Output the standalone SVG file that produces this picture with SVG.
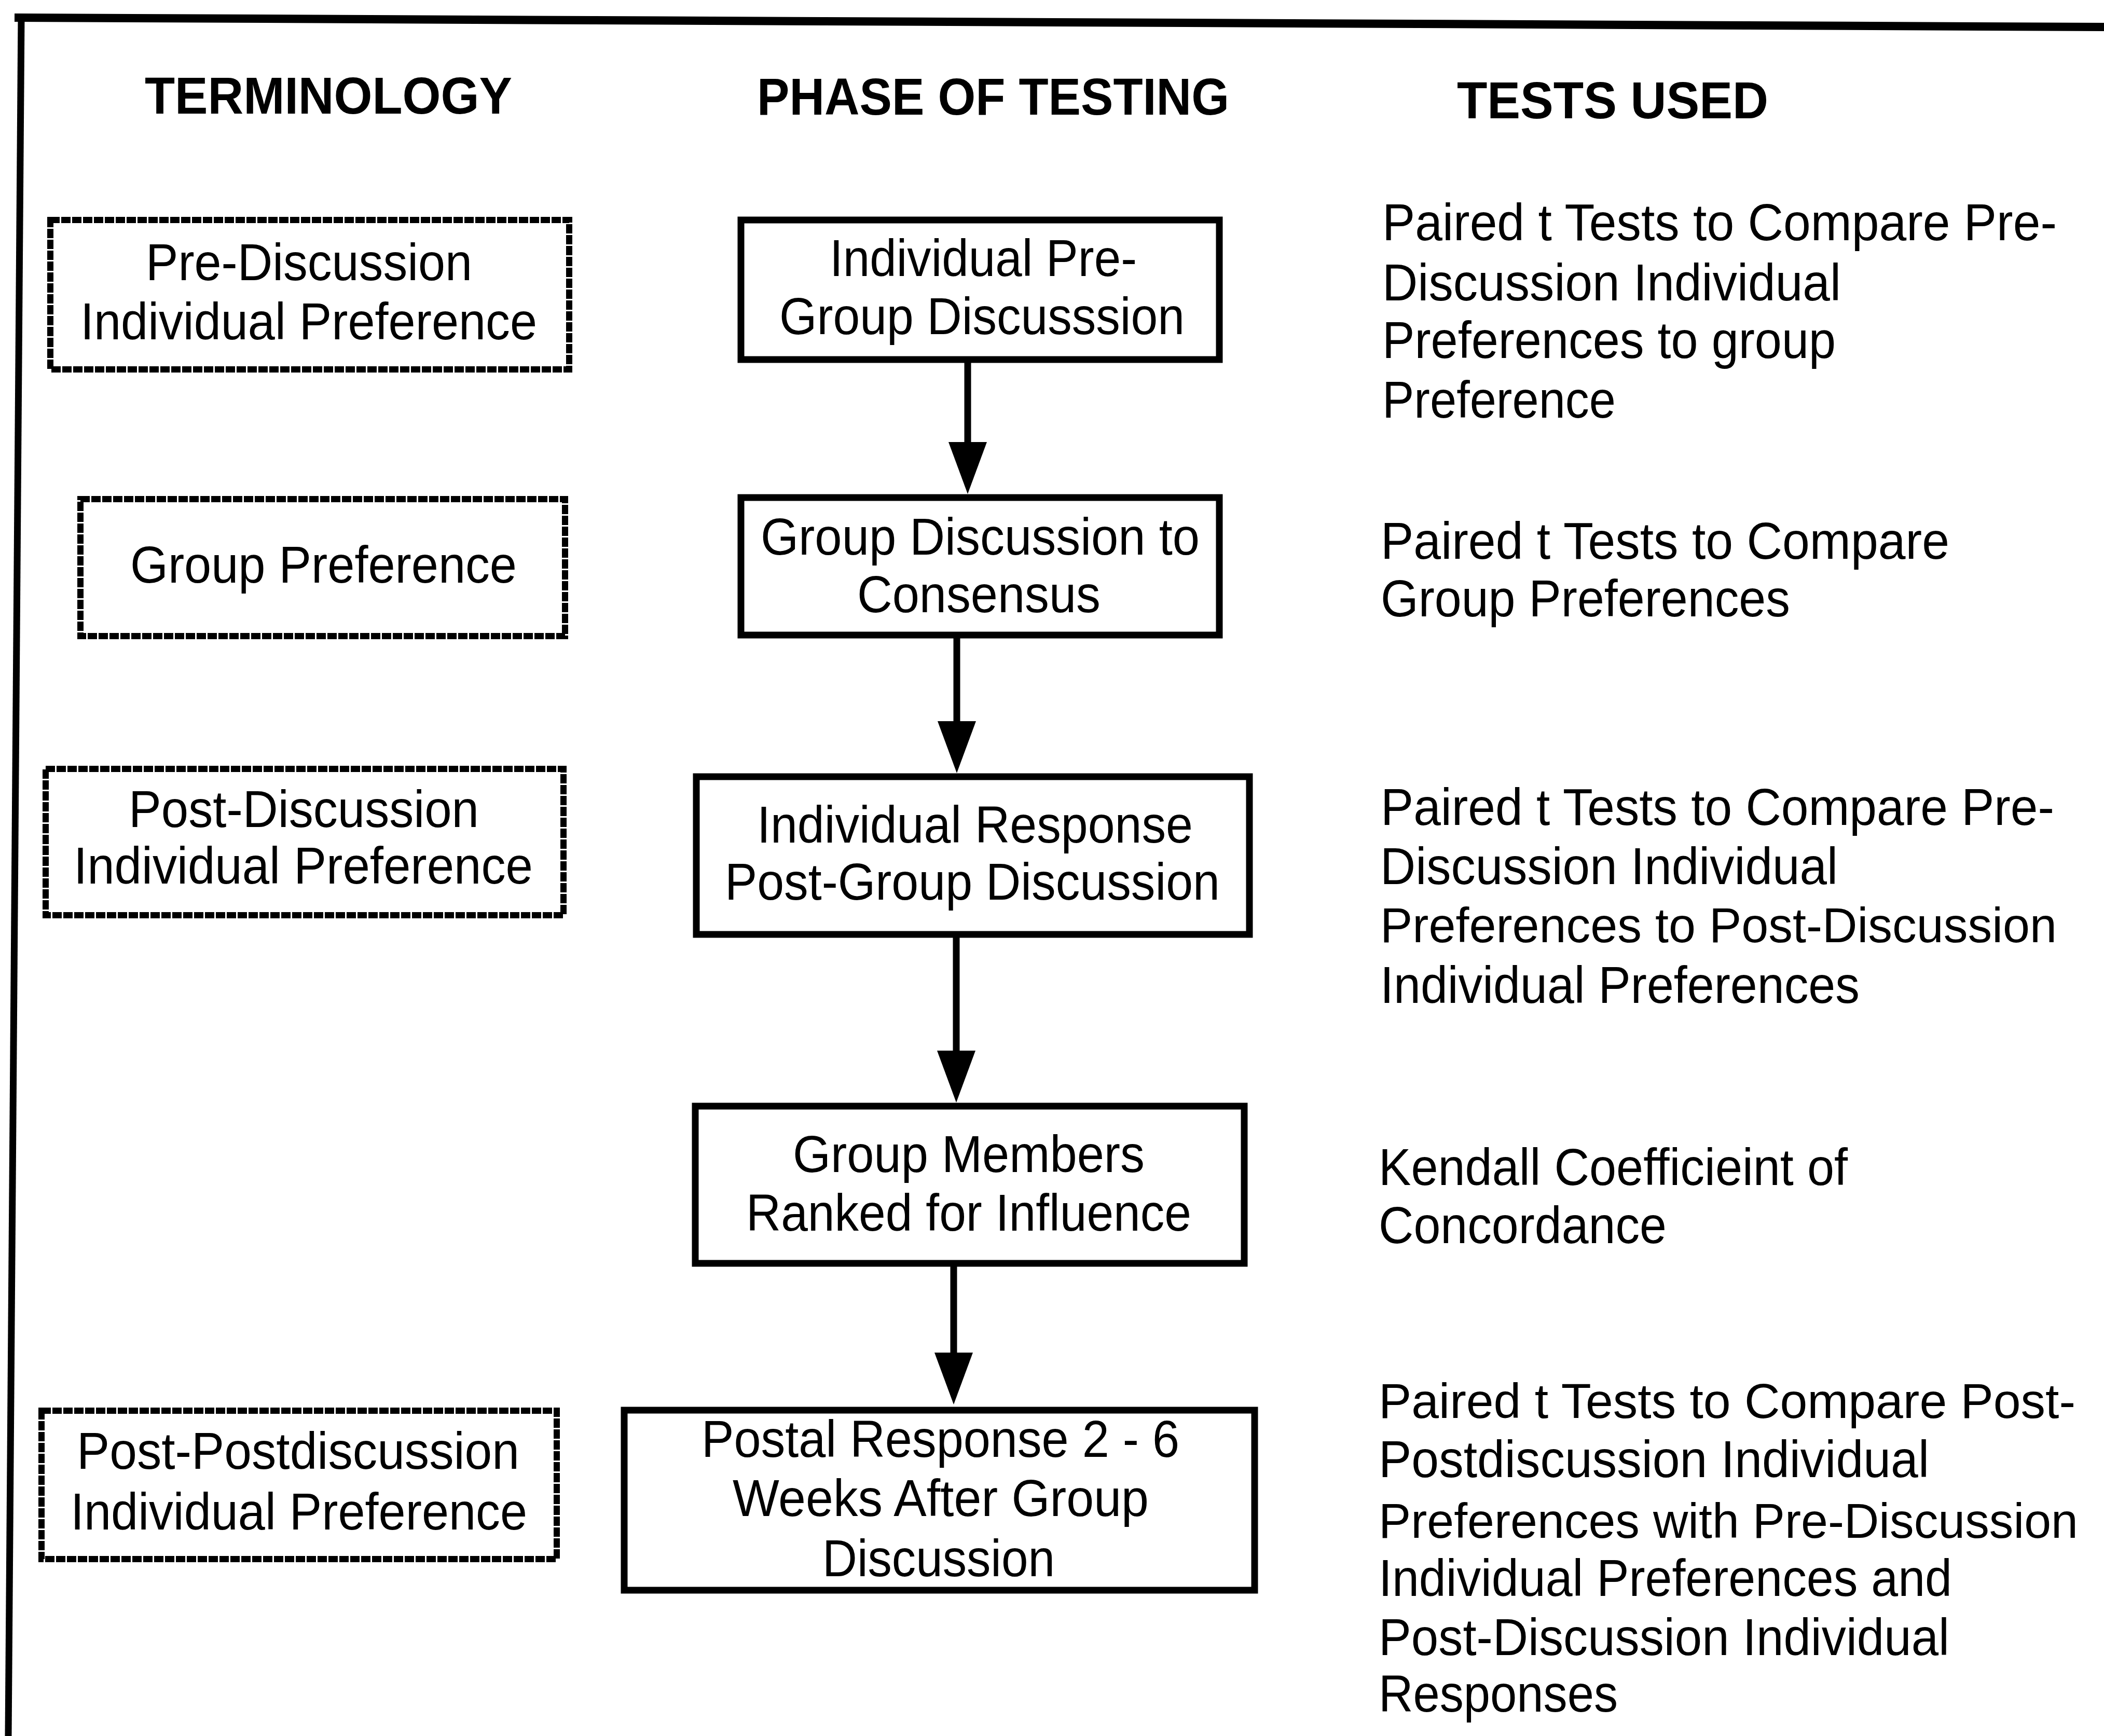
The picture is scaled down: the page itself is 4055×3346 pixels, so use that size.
<svg xmlns="http://www.w3.org/2000/svg" width="4055" height="3346" viewBox="0 0 4055 3346">
  <style>
    .frame { fill: none; stroke: #000; stroke-linecap: square; }
    .term { fill: #fff; stroke: #000; stroke-width: 12; stroke-dasharray: 18 3; }
    .phase { fill: #fff; stroke: #000; stroke-width: 13; }
    .hdr { font-family: "Liberation Sans", Arial, sans-serif; font-weight: bold; font-size: 100px; fill: #000; }
    .txt { font-family: "Liberation Sans", Arial, sans-serif; font-size: 100px; fill: #000; }
    .txt.long { font-size: 94px; }
    .link { stroke: #000; stroke-width: 13; fill: none; }
  </style>
  <defs>
    <marker id="head" viewBox="0 0 100 74" refX="10" refY="37" markerWidth="100" markerHeight="74" markerUnits="userSpaceOnUse" orient="auto">
      <path d="M0,0 L100,37 L0,74 Z" fill="#000"/>
    </marker>
  </defs>
  <rect width="4055" height="3346" fill="#fff"/>

  <!-- outer frame (top and left rules only) -->
  <g id="frame">
    <line class="frame" x1="36" y1="34" x2="4055" y2="52" stroke-width="16"/>
    <line class="frame" x1="41" y1="34" x2="16" y2="3346" stroke-width="13"/>
  </g>

  <!-- column headings -->
  <g id="headings">
    <text class="hdr" x="279" y="219" textLength="708" lengthAdjust="spacingAndGlyphs">TERMINOLOGY</text>
    <text class="hdr" x="1459" y="221" textLength="910" lengthAdjust="spacingAndGlyphs">PHASE OF TESTING</text>
    <text class="hdr" x="2808" y="228" textLength="600" lengthAdjust="spacingAndGlyphs">TESTS USED</text>
  </g>

  <!-- terminology (dashed boxes) -->
  <g id="term-pre">
    <rect class="term" x="97" y="424" width="1000" height="288"/>
    <text class="txt" x="281" y="540" textLength="629" lengthAdjust="spacingAndGlyphs">Pre-Discussion</text>
    <text class="txt" x="155" y="654" textLength="880" lengthAdjust="spacingAndGlyphs">Individual Preference</text>
  </g>
  <g id="term-group">
    <rect class="term" x="155" y="962" width="934" height="264"/>
    <text class="txt" x="251" y="1123" textLength="745" lengthAdjust="spacingAndGlyphs">Group Preference</text>
  </g>
  <g id="term-post">
    <rect class="term" x="88" y="1482" width="998" height="282"/>
    <text class="txt" x="248" y="1594" textLength="675" lengthAdjust="spacingAndGlyphs">Post-Discussion</text>
    <text class="txt" x="142" y="1703" textLength="885" lengthAdjust="spacingAndGlyphs">Individual Preference</text>
  </g>
  <g id="term-postpost">
    <rect class="term" x="80" y="2719" width="993" height="286"/>
    <text class="txt" x="148" y="2831" textLength="853" lengthAdjust="spacingAndGlyphs">Post-Postdiscussion</text>
    <text class="txt" x="136" y="2948" textLength="880" lengthAdjust="spacingAndGlyphs">Individual Preference</text>
  </g>

  <!-- phases of testing (solid boxes) -->
  <g id="phase-pre">
    <rect class="phase" x="1428" y="424" width="922" height="269"/>
    <text class="txt" x="1599" y="532" textLength="592" lengthAdjust="spacingAndGlyphs">Individual Pre-</text>
    <text class="txt" x="1502" y="644" textLength="781" lengthAdjust="spacingAndGlyphs">Group Discusssion</text>
  </g>
  <g id="phase-consensus">
    <rect class="phase" x="1428" y="959" width="922" height="265"/>
    <text class="txt" x="1466" y="1069" textLength="846" lengthAdjust="spacingAndGlyphs">Group Discussion to</text>
    <text class="txt" x="1652" y="1180" textLength="469" lengthAdjust="spacingAndGlyphs">Consensus</text>
  </g>
  <g id="phase-post">
    <rect class="phase" x="1342" y="1497" width="1066" height="304"/>
    <text class="txt" x="1459" y="1624" textLength="840" lengthAdjust="spacingAndGlyphs">Individual Response</text>
    <text class="txt" x="1397" y="1734" textLength="954" lengthAdjust="spacingAndGlyphs">Post-Group Discussion</text>
  </g>
  <g id="phase-ranking">
    <rect class="phase" x="1340" y="2132" width="1058" height="303"/>
    <text class="txt" x="1528" y="2259" textLength="678" lengthAdjust="spacingAndGlyphs">Group Members</text>
    <text class="txt" x="1438" y="2372" textLength="858" lengthAdjust="spacingAndGlyphs">Ranked for Influence</text>
  </g>
  <g id="phase-postal">
    <rect class="phase" x="1203" y="2718" width="1215" height="347"/>
    <text class="txt" x="1352" y="2808" textLength="921" lengthAdjust="spacingAndGlyphs">Postal Response 2 - 6</text>
    <text class="txt" x="1412" y="2922" textLength="802" lengthAdjust="spacingAndGlyphs">Weeks After Group</text>
    <text class="txt" x="1585" y="3038" textLength="448" lengthAdjust="spacingAndGlyphs">Discussion</text>
  </g>

  <!-- connectors between phases -->
  <g id="connectors">
    <line class="link" x1="1865" y1="699" x2="1865" y2="862" marker-end="url(#head)"/>
    <line class="link" x1="1844" y1="1230" x2="1844" y2="1400" marker-end="url(#head)"/>
    <line class="link" x1="1843" y1="1807" x2="1843" y2="2035" marker-end="url(#head)"/>
    <line class="link" x1="1838" y1="2441" x2="1838" y2="2617" marker-end="url(#head)"/>
  </g>

  <!-- tests used (plain text) -->
  <g id="tests-pre">
    <text class="txt" x="2664" y="463" textLength="1300" lengthAdjust="spacingAndGlyphs">Paired t Tests to Compare Pre-</text>
    <text class="txt" x="2664" y="579" textLength="884" lengthAdjust="spacingAndGlyphs">Discussion Individual</text>
    <text class="txt" x="2664" y="690" textLength="874" lengthAdjust="spacingAndGlyphs">Preferences to group</text>
    <text class="txt" x="2664" y="805" textLength="450" lengthAdjust="spacingAndGlyphs">Preference</text>
  </g>
  <g id="tests-group">
    <text class="txt" x="2661" y="1077" textLength="1096" lengthAdjust="spacingAndGlyphs">Paired t Tests to Compare</text>
    <text class="txt" x="2661" y="1188" textLength="789" lengthAdjust="spacingAndGlyphs">Group Preferences</text>
  </g>
  <g id="tests-post">
    <text class="txt" x="2661" y="1590" textLength="1298" lengthAdjust="spacingAndGlyphs">Paired t Tests to Compare Pre-</text>
    <text class="txt" x="2660" y="1704" textLength="882" lengthAdjust="spacingAndGlyphs">Discussion Individual</text>
    <text class="txt long" x="2660" y="1816" textLength="1304" lengthAdjust="spacingAndGlyphs">Preferences to Post-Discussion</text>
    <text class="txt" x="2660" y="1933" textLength="924" lengthAdjust="spacingAndGlyphs">Individual Preferences</text>
  </g>
  <g id="tests-ranking">
    <text class="txt" x="2657" y="2284" textLength="904" lengthAdjust="spacingAndGlyphs">Kendall Coefficieint of</text>
    <text class="txt" x="2657" y="2396" textLength="555" lengthAdjust="spacingAndGlyphs">Concordance</text>
  </g>
  <g id="tests-postal">
    <text class="txt long" x="2657" y="2733" textLength="1343" lengthAdjust="spacingAndGlyphs">Paired t Tests to Compare Post-</text>
    <text class="txt" x="2657" y="2847" textLength="1061" lengthAdjust="spacingAndGlyphs">Postdiscussion Individual</text>
    <text class="txt long" x="2657" y="2964" textLength="1348" lengthAdjust="spacingAndGlyphs">Preferences with Pre-Discussion</text>
    <text class="txt" x="2657" y="3076" textLength="1105" lengthAdjust="spacingAndGlyphs">Individual Preferences and</text>
    <text class="txt" x="2657" y="3190" textLength="1100" lengthAdjust="spacingAndGlyphs">Post-Discussion Individual</text>
    <text class="txt" x="2657" y="3299" textLength="461" lengthAdjust="spacingAndGlyphs">Responses</text>
  </g>
</svg>
